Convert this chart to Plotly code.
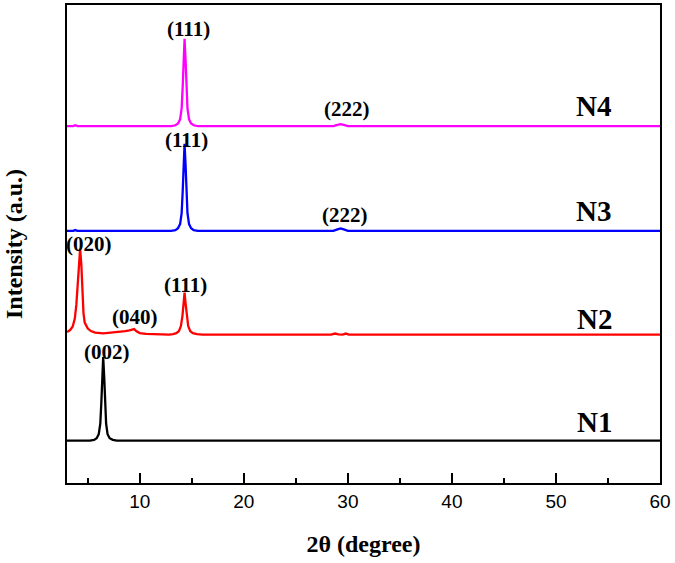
import plotly.graph_objects as go

# ---- data (2θ in degrees, intensity in arbitrary units above each baseline) ----
n1_x = [3, 5.2, 5.6, 5.85, 6.05, 6.2, 6.3, 6.38, 6.48, 6.58, 6.66, 6.76, 6.9, 7.1, 7.4, 7.8, 60]
n1_y = [0, 0, 0.8, 2.5, 6.5, 17, 38, 63, 84, 63, 38, 17, 6.5, 2.5, 0.8, 0, 0]

n2_x = [3.0, 3.3, 3.55, 3.75, 3.9, 4.02, 4.14, 4.26, 4.38, 4.48, 4.58, 4.7, 4.85, 5.0, 5.3, 5.7,
        6.5, 7.3, 8.0, 8.6, 9.0, 9.3, 9.45, 9.65, 10.0, 10.6, 11.5, 12.8, 13.2, 13.5, 13.75, 13.95,
        14.1, 14.2, 14.3, 14.4, 14.5, 14.65, 14.85, 15.1, 15.5, 16.0, 28.4, 28.75, 29.1, 29.5, 29.8,
        30.1, 60]
n2_y = [2.5, 4.5, 8, 16, 30, 50, 72, 86, 70, 45, 22, 12, 8, 6, 3.5, 2,
        1.2, 1.8, 2.8, 3.5, 4.2, 5.5, 5.5, 3.5, 1.5, 0.6, 0.3, 0, 0.5, 1.3, 3.3, 8.5,
        19, 31, 42, 31, 19, 8.5, 3.3, 1.3, 0.4, 0, 0, 1.0, 0.2, 0, 1.0,
        0, 0]

n3_x = [3, 3.6, 3.8, 4.0, 12.6, 13.02, 13.42, 13.67, 13.87, 14.02, 14.12, 14.2, 14.3, 14.4, 14.48,
        14.58, 14.73, 14.93, 15.18, 15.58, 16.0, 28.6, 29.0, 29.3, 29.6, 30.0, 60]
n3_y = [0, 0, 0.8, 0, 0, 0, 0.8, 2.6, 6.8, 17.7, 39.6, 65.6, 87.5, 65.6, 39.6,
        17.7, 6.8, 2.6, 0.8, 0, 0, 0, 1.5, 2.5, 1.5, 0, 0]

n4_x = [3, 3.6, 3.8, 4.0, 12.6, 13.02, 13.42, 13.67, 13.87, 14.02, 14.12, 14.2, 14.3, 14.4, 14.48,
        14.58, 14.73, 14.93, 15.18, 15.58, 16.0, 28.6, 29.0, 29.3, 29.6, 30.0, 60]
n4_y = [0, 0, 0.8, 0, 0, 0, 0.8, 2.6, 6.8, 17.7, 39.6, 65.6, 87.5, 65.6, 39.6,
        17.7, 6.8, 2.6, 0.8, 0, 0, 0, 1.2, 2.0, 1.2, 0, 0]

sample_names = ["N1", "N2", "N3", "N4"]
baseline_offsets = [42.5, 149, 253, 358.2]
series_colors = ["#000000", "#ff0000", "#0000ff", "#ff00ff"]

# peak labels: (text, 2θ, height)
peak_labels = [
    ("(111)", 14.67, 455.7), ("(222)", 29.94, 375.7),
    ("(111)", 14.45, 344.4), ("(222)", 29.73, 269.4),
    ("(020)", 5.09, 240.0), ("(040)", 9.50, 166.7), ("(111)", 14.42, 198.4),
    ("(002)", 6.85, 131.0),
]
name_labels = [("N4", 53.62, 378.5), ("N3", 53.65, 272.5), ("N2", 53.74, 164.4), ("N1", 53.74, 61.0)]

x_tick_vals = [10, 20, 30, 40, 50, 60]

serif = "Liberation Serif, Times New Roman, serif"
sans = "Liberation Sans, Arial, sans-serif"

fig = go.Figure()
all_x = [n1_x, n2_x, n3_x, n4_x]
all_y = [n1_y, n2_y, n3_y, n4_y]
for name, xs, ys, off, col in zip(sample_names, all_x, all_y, baseline_offsets, series_colors):
    fig.add_trace(go.Scatter(x=xs, y=[v + off for v in ys], mode="lines", name=name,
                             line=dict(color=col, width=2.3), showlegend=False))

annotations = []
for txt, x, y in peak_labels:
    annotations.append(dict(x=x, y=y, xref="x", yref="y", text="<b>" + txt + "</b>", showarrow=False,
                            font=dict(family=serif, size=21, color="black"),
                            xanchor="center", yanchor="middle"))
for txt, x, y in name_labels:
    annotations.append(dict(x=x, y=y, xref="x", yref="y", text="<b>" + txt + "</b>", showarrow=False,
                            font=dict(family=serif, size=29, color="black"),
                            xanchor="center", yanchor="middle"))

fig.update_layout(
    width=675, height=563,
    margin=dict(l=66.5, r=15, t=3, b=80.3),
    plot_bgcolor="white", paper_bgcolor="white",
    annotations=annotations,
    xaxis=dict(range=[3, 60], tickvals=x_tick_vals, ticks="inside", ticklen=10, tickwidth=1.5,
               tickcolor="black", showline=True, linecolor="black", linewidth=2, mirror=True,
               showgrid=False, zeroline=False,
               tickfont=dict(family=sans, size=19, color="black"),
               minor=dict(dtick=5, ticks="inside", ticklen=5, tickwidth=1.5, tickcolor="black",
                          showgrid=False),
               title=dict(text="<b>2θ (degree)</b>", font=dict(family=serif, size=24, color="black"),
                          standoff=24)),
    yaxis=dict(range=[0, 479.7], showticklabels=False, ticks="", showline=True, linecolor="black",
               linewidth=2, mirror=True, showgrid=False, zeroline=False,
               title=dict(text="<b>Intensity (a.u.)</b>", font=dict(family=serif, size=24, color="black"),
                          standoff=36)),
)

fig.write_html("out.html", config={"displayModeBar": False},
               post_script="document.body.style.margin='0';")
